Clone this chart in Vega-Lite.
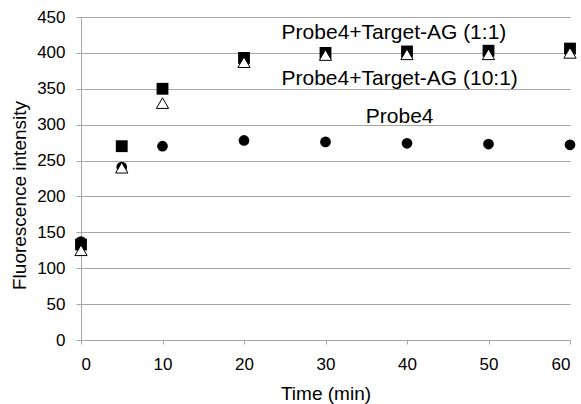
{
  "$schema": "https://vega.github.io/schema/vega-lite/v6.json",
  "width": 489,
  "height": 323,
  "autosize": "none",
  "padding": {"left": 81, "top": 17, "right": 11, "bottom": 64},
  "background": "white",
  "config": {
    "view": {"stroke": null},
    "font": "Liberation Sans",
    "axis": {
      "labelFont": "Liberation Sans",
      "titleFont": "Liberation Sans",
      "labelColor": "#000000",
      "titleColor": "#000000",
      "labelFontSize": 17,
      "titleFontSize": 19,
      "titleFontWeight": "normal",
      "domainColor": "#a6a6a6",
      "tickColor": "#a6a6a6",
      "gridColor": "#a6a6a6",
      "domainWidth": 1,
      "gridWidth": 1
    }
  },
  "datasets": {
    "points": [
      {"time": 0, "series": "Probe4", "value": 137},
      {"time": 5, "series": "Probe4", "value": 241},
      {"time": 10, "series": "Probe4", "value": 270},
      {"time": 20, "series": "Probe4", "value": 278},
      {"time": 30, "series": "Probe4", "value": 276},
      {"time": 40, "series": "Probe4", "value": 274},
      {"time": 50, "series": "Probe4", "value": 273},
      {"time": 60, "series": "Probe4", "value": 272},
      {"time": 0, "series": "1:1", "value": 133},
      {"time": 5, "series": "1:1", "value": 270},
      {"time": 10, "series": "1:1", "value": 350},
      {"time": 20, "series": "1:1", "value": 393},
      {"time": 30, "series": "1:1", "value": 400},
      {"time": 40, "series": "1:1", "value": 402},
      {"time": 50, "series": "1:1", "value": 403},
      {"time": 60, "series": "1:1", "value": 406},
      {"time": 0, "series": "10:1", "value": 125},
      {"time": 5, "series": "10:1", "value": 240},
      {"time": 10, "series": "10:1", "value": 330},
      {"time": 20, "series": "10:1", "value": 387},
      {"time": 30, "series": "10:1", "value": 397},
      {"time": 40, "series": "10:1", "value": 398},
      {"time": 50, "series": "10:1", "value": 398},
      {"time": 60, "series": "10:1", "value": 400}
    ],
    "labels": [
      {"label": "Probe4+Target-AG (1:1)", "time": 38.4, "value": 428},
      {"label": "Probe4+Target-AG (10:1)", "time": 39.1, "value": 364},
      {"label": "Probe4", "time": 39.1, "value": 311}
    ]
  },
  "data": {"name": "points"},
  "encoding": {
    "x": {
      "field": "time", "type": "quantitative",
      "scale": {"domain": [0, 60], "nice": false, "zero": false},
      "axis": {"title": "Time (min)", "values": [0,10,20,30,40,50,60], "grid": false, "tickSize": 4, "labelPadding": 12, "titlePadding": 12}
    },
    "y": {
      "field": "value", "type": "quantitative",
      "scale": {"domain": [0, 450], "nice": false},
      "axis": {"title": "Fluorescence intensity", "values": [0,50,100,150,200,250,300,350,400,450], "grid": true, "tickSize": 5, "labelPadding": 11, "titlePadding": 7, "titleY": 178}
    }
  },
  "layer": [
    {
      "transform": [{"filter": "datum.series === 'Probe4'"}],
      "mark": {"type": "point", "shape": "circle", "filled": true, "color": "#000000", "opacity": 1, "size": 115}
    },
    {
      "transform": [{"filter": "datum.series === '1:1'"}],
      "mark": {"type": "point", "shape": "square", "filled": true, "color": "#000000", "opacity": 1, "size": 140}
    },
    {
      "transform": [{"filter": "datum.series === '10:1'"}],
      "mark": {"type": "point", "shape": "triangle-up", "filled": true, "fill": "#ffffff", "stroke": "#000000", "strokeWidth": 1, "opacity": 1, "size": 150}
    },
    {
      "data": {"name": "labels"},
      "mark": {"type": "text", "fontSize": 21, "fontWeight": "normal", "font": "Liberation Sans", "fill": "#000000", "align": "center", "baseline": "middle"},
      "encoding": {"text": {"field": "label"}}
    }
  ]
}
